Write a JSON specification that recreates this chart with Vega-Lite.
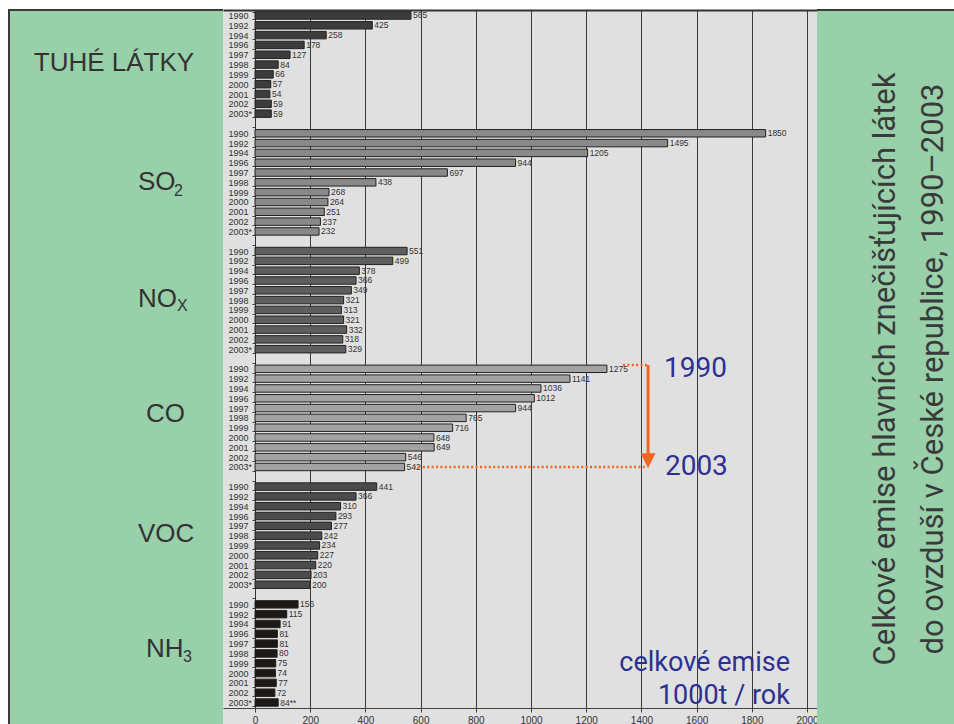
{
  "$schema": "https://vega.github.io/schema/vega-lite/v6.json",
  "background": "white",
  "padding": {"left": 8, "top": -10, "right": 0, "bottom": 0},
  "spacing": 0,
  "bounds": "flush",
  "config": {"view": {"stroke": null}, "font": "Liberation Sans", "axis": {"labelFont": "Liberation Sans"}},
  "datasets": {
    "em": [
      {"p": "TUHÉ", "k": "TUHÉ|1990", "v": 565, "lbl": "565"},
      {"p": "TUHÉ", "k": "TUHÉ|1992", "v": 425, "lbl": "425"},
      {"p": "TUHÉ", "k": "TUHÉ|1994", "v": 258, "lbl": "258"},
      {"p": "TUHÉ", "k": "TUHÉ|1996", "v": 178, "lbl": "178"},
      {"p": "TUHÉ", "k": "TUHÉ|1997", "v": 127, "lbl": "127"},
      {"p": "TUHÉ", "k": "TUHÉ|1998", "v": 84, "lbl": "84"},
      {"p": "TUHÉ", "k": "TUHÉ|1999", "v": 66, "lbl": "66"},
      {"p": "TUHÉ", "k": "TUHÉ|2000", "v": 57, "lbl": "57"},
      {"p": "TUHÉ", "k": "TUHÉ|2001", "v": 54, "lbl": "54"},
      {"p": "TUHÉ", "k": "TUHÉ|2002", "v": 59, "lbl": "59"},
      {"p": "TUHÉ", "k": "TUHÉ|2003*", "v": 59, "lbl": "59"},
      {"p": "SO2", "k": "SO2|1990", "v": 1850, "lbl": "1850"},
      {"p": "SO2", "k": "SO2|1992", "v": 1495, "lbl": "1495"},
      {"p": "SO2", "k": "SO2|1994", "v": 1205, "lbl": "1205"},
      {"p": "SO2", "k": "SO2|1996", "v": 944, "lbl": "944"},
      {"p": "SO2", "k": "SO2|1997", "v": 697, "lbl": "697"},
      {"p": "SO2", "k": "SO2|1998", "v": 438, "lbl": "438"},
      {"p": "SO2", "k": "SO2|1999", "v": 268, "lbl": "268"},
      {"p": "SO2", "k": "SO2|2000", "v": 264, "lbl": "264"},
      {"p": "SO2", "k": "SO2|2001", "v": 251, "lbl": "251"},
      {"p": "SO2", "k": "SO2|2002", "v": 237, "lbl": "237"},
      {"p": "SO2", "k": "SO2|2003*", "v": 232, "lbl": "232"},
      {"p": "NOx", "k": "NOx|1990", "v": 551, "lbl": "551"},
      {"p": "NOx", "k": "NOx|1992", "v": 499, "lbl": "499"},
      {"p": "NOx", "k": "NOx|1994", "v": 378, "lbl": "378"},
      {"p": "NOx", "k": "NOx|1996", "v": 366, "lbl": "366"},
      {"p": "NOx", "k": "NOx|1997", "v": 349, "lbl": "349"},
      {"p": "NOx", "k": "NOx|1998", "v": 321, "lbl": "321"},
      {"p": "NOx", "k": "NOx|1999", "v": 313, "lbl": "313"},
      {"p": "NOx", "k": "NOx|2000", "v": 321, "lbl": "321"},
      {"p": "NOx", "k": "NOx|2001", "v": 332, "lbl": "332"},
      {"p": "NOx", "k": "NOx|2002", "v": 318, "lbl": "318"},
      {"p": "NOx", "k": "NOx|2003*", "v": 329, "lbl": "329"},
      {"p": "CO", "k": "CO|1990", "v": 1275, "lbl": "1275"},
      {"p": "CO", "k": "CO|1992", "v": 1141, "lbl": "1141"},
      {"p": "CO", "k": "CO|1994", "v": 1036, "lbl": "1036"},
      {"p": "CO", "k": "CO|1996", "v": 1012, "lbl": "1012"},
      {"p": "CO", "k": "CO|1997", "v": 944, "lbl": "944"},
      {"p": "CO", "k": "CO|1998", "v": 765, "lbl": "765"},
      {"p": "CO", "k": "CO|1999", "v": 716, "lbl": "716"},
      {"p": "CO", "k": "CO|2000", "v": 648, "lbl": "648"},
      {"p": "CO", "k": "CO|2001", "v": 649, "lbl": "649"},
      {"p": "CO", "k": "CO|2002", "v": 546, "lbl": "546"},
      {"p": "CO", "k": "CO|2003*", "v": 542, "lbl": "542"},
      {"p": "VOC", "k": "VOC|1990", "v": 441, "lbl": "441"},
      {"p": "VOC", "k": "VOC|1992", "v": 366, "lbl": "366"},
      {"p": "VOC", "k": "VOC|1994", "v": 310, "lbl": "310"},
      {"p": "VOC", "k": "VOC|1996", "v": 293, "lbl": "293"},
      {"p": "VOC", "k": "VOC|1997", "v": 277, "lbl": "277"},
      {"p": "VOC", "k": "VOC|1998", "v": 242, "lbl": "242"},
      {"p": "VOC", "k": "VOC|1999", "v": 234, "lbl": "234"},
      {"p": "VOC", "k": "VOC|2000", "v": 227, "lbl": "227"},
      {"p": "VOC", "k": "VOC|2001", "v": 220, "lbl": "220"},
      {"p": "VOC", "k": "VOC|2002", "v": 203, "lbl": "203"},
      {"p": "VOC", "k": "VOC|2003*", "v": 200, "lbl": "200"},
      {"p": "NH3", "k": "NH3|1990", "v": 156, "lbl": "156"},
      {"p": "NH3", "k": "NH3|1992", "v": 115, "lbl": "115"},
      {"p": "NH3", "k": "NH3|1994", "v": 91, "lbl": "91"},
      {"p": "NH3", "k": "NH3|1996", "v": 81, "lbl": "81"},
      {"p": "NH3", "k": "NH3|1997", "v": 81, "lbl": "81"},
      {"p": "NH3", "k": "NH3|1998", "v": 80, "lbl": "80"},
      {"p": "NH3", "k": "NH3|1999", "v": 75, "lbl": "75"},
      {"p": "NH3", "k": "NH3|2000", "v": 74, "lbl": "74"},
      {"p": "NH3", "k": "NH3|2001", "v": 77, "lbl": "77"},
      {"p": "NH3", "k": "NH3|2002", "v": 72, "lbl": "72"},
      {"p": "NH3", "k": "NH3|2003*", "v": 84, "lbl": "84**"}
    ],
    "names": [
      {"g": "TUHÉ", "t": "TUHÉ LÁTKY"},
      {"g": "SO2", "t": "SO", "s": "2"},
      {"g": "NOx", "t": "NO", "s": "X"},
      {"g": "CO", "t": "CO"},
      {"g": "VOC", "t": "VOC"},
      {"g": "NH3", "t": "NH", "s": "3"}
    ],
    "title": [
      {"t": "Celkové emise hlavních znečišťujících látek\ndo ovzduší v České republice, 1990–2003"}
    ],
    "one": [{}]
  },
  "hconcat": [
    {
      "width": 214,
      "height": 714,
      "view": {"fill": "#98d0aa", "stroke": "#3a3a3a", "strokeWidth": 2, "strokeDash": [214, 928, 714], "strokeCap": "butt"},
      "data": {"name": "names"},
      "encoding": {
        "y": {"field": "g", "type": "nominal", "axis": null,
              "scale": {"type": "point", "domain": ["TUHÉ", "SO2", "NOx", "CO", "VOC", "NH3"], "padding": 0.536, "align": 0.437}}
      },
      "layer": [
        {
          "transform": [{"filter": "datum.g === 'TUHÉ'"}],
          "mark": {"type": "text", "align": "center", "baseline": "middle", "dx": -2, "dy": -2, "fontSize": 26, "color": "#333333", "font": "Liberation Sans"},
          "encoding": {"text": {"field": "t"}}
        },
        {
          "transform": [{"filter": "datum.g === 'SO2' || datum.g === 'NOx' || datum.g === 'VOC'"}],
          "mark": {"type": "text", "align": "left", "baseline": "middle", "dx": 22, "dy": -1, "fontSize": 26, "color": "#333333", "font": "Liberation Sans"},
          "encoding": {"text": {"field": "t"}}
        },
        {
          "transform": [{"filter": "datum.g === 'CO' || datum.g === 'NH3'"}],
          "mark": {"type": "text", "align": "left", "baseline": "middle", "dx": 30, "dy": -4, "fontSize": 26, "color": "#333333", "font": "Liberation Sans"},
          "encoding": {"text": {"field": "t"}}
        },
        {
          "transform": [{"filter": "datum.g === 'SO2'"}],
          "mark": {"type": "text", "align": "left", "baseline": "middle", "dx": 58, "dy": 8, "fontSize": 16, "color": "#333333", "font": "Liberation Sans"},
          "encoding": {"text": {"field": "s"}}
        },
        {
          "transform": [{"filter": "datum.g === 'NOx'"}],
          "mark": {"type": "text", "align": "left", "baseline": "middle", "dx": 61, "dy": 6, "fontSize": 16, "color": "#333333", "font": "Liberation Sans"},
          "encoding": {"text": {"field": "s"}}
        },
        {
          "transform": [{"filter": "datum.g === 'NH3'"}],
          "mark": {"type": "text", "align": "left", "baseline": "middle", "dx": 67, "dy": 4, "fontSize": 16, "color": "#333333", "font": "Liberation Sans"},
          "encoding": {"text": {"field": "s"}}
        }
      ]
    },
    {
      "width": 594,
      "height": 698,
      "view": {"fill": "#e0e0e0", "stroke": "#e0e0e0", "strokeWidth": 32, "strokeDash": [0, 1292, 594, 698], "strokeCap": "butt"},
      "data": {"name": "em"},
      "resolve": {"axis": {"x": "independent"}},
      "layer": [
        {
          "mark": {"type": "bar", "stroke": "#222222", "strokeWidth": 1},
          "encoding": {
            "y": {
              "field": "k", "type": "nominal",
              "scale": {
                "domain": [
                  "TUHÉ|1990", "TUHÉ|1992", "TUHÉ|1994", "TUHÉ|1996", "TUHÉ|1997", "TUHÉ|1998", "TUHÉ|1999", "TUHÉ|2000", "TUHÉ|2001", "TUHÉ|2002", "TUHÉ|2003*", "TUHÉ|",
                  "SO2|1990", "SO2|1992", "SO2|1994", "SO2|1996", "SO2|1997", "SO2|1998", "SO2|1999", "SO2|2000", "SO2|2001", "SO2|2002", "SO2|2003*", "SO2|",
                  "NOx|1990", "NOx|1992", "NOx|1994", "NOx|1996", "NOx|1997", "NOx|1998", "NOx|1999", "NOx|2000", "NOx|2001", "NOx|2002", "NOx|2003*", "NOx|",
                  "CO|1990", "CO|1992", "CO|1994", "CO|1996", "CO|1997", "CO|1998", "CO|1999", "CO|2000", "CO|2001", "CO|2002", "CO|2003*", "CO|",
                  "VOC|1990", "VOC|1992", "VOC|1994", "VOC|1996", "VOC|1997", "VOC|1998", "VOC|1999", "VOC|2000", "VOC|2001", "VOC|2002", "VOC|2003*", "VOC|",
                  "NH3|1990", "NH3|1992", "NH3|1994", "NH3|1996", "NH3|1997", "NH3|1998", "NH3|1999", "NH3|2000", "NH3|2001", "NH3|2002", "NH3|2003*"
                ],
                "paddingInner": 0.24,
                "paddingOuter": 0.18
              },
              "axis": {
                "offset": -32,
                "labelExpr": "split(datum.value, '|')[1]",
                "labelAlign": "left",
                "labelBaseline": "middle",
                "labelPadding": 24,
                "tickSize": 3,
                "tickBand": "extent",
                "tickColor": "#444444",
                "labelFontSize": 9,
                "labelColor": "#333333",
                "domainColor": "#333333",
                "title": null,
                "grid": false
              }
            },
            "x": {
              "field": "v", "type": "quantitative",
              "scale": {"domain": [-116, 2036], "nice": false, "zero": false},
              "axis": {
                "orient": "bottom",
                "values": [0, 200, 400, 600, 800, 1000, 1200, 1400, 1600, 1800, 2000],
                "format": "d",
                "grid": true, "gridColor": "#3a3a3a", "gridWidth": 1,
                "domain": true, "domainColor": "#444444",
                "tickColor": "#444444", "tickSize": 4,
                "labelFontSize": 10, "labelColor": "#333333", "labelPadding": 3,
                "title": null
              }
            },
            "x2": {"datum": 0},
            "color": {
              "field": "p", "type": "nominal", "legend": null,
              "scale": {"domain": ["TUHÉ", "SO2", "NOx", "CO", "VOC", "NH3"],
                        "range": ["#3c3c3c", "#898989", "#5e5e5e", "#a2a2a2", "#4b4b4b", "#1c1917"]}
            }
          }
        },
        {
          "mark": {"type": "text", "align": "left", "baseline": "middle", "dx": 2, "fontSize": 8.5, "color": "#333333"},
          "encoding": {
            "y": {"field": "k", "type": "nominal"},
            "x": {"field": "v", "type": "quantitative",
                  "axis": {"orient": "top", "domain": true, "domainColor": "#333333", "domainWidth": 2, "ticks": false, "labels": false, "grid": false, "title": null}},
            "text": {"field": "lbl"}
          }
        },
        {
          "data": {"name": "one"},
          "mark": {"type": "rule", "color": "#f26522", "strokeWidth": 2.5, "strokeDash": [2, 2.4]},
          "encoding": {
            "x": {"datum": 1333, "axis": null},
            "x2": {"datum": 1420},
            "y": {"datum": "CO|1990", "bandPosition": 0}
          }
        },
        {
          "data": {"name": "one"},
          "mark": {"type": "rule", "color": "#f26522", "strokeWidth": 2.5, "strokeDash": [2, 2.4]},
          "encoding": {
            "x": {"datum": 576, "axis": null},
            "x2": {"datum": 1420},
            "y": {"datum": "CO|2003*"}
          }
        },
        {
          "data": {"name": "one"},
          "mark": {"type": "rule", "color": "#f26522", "strokeWidth": 3},
          "encoding": {
            "x": {"datum": 1424, "axis": null},
            "y": {"datum": "CO|1990", "bandPosition": 0},
            "y2": {"datum": "CO|2002"}
          }
        },
        {
          "data": {"name": "one"},
          "mark": {"type": "point", "shape": "M-1,-1L1,-1L0,1Z", "filled": true, "color": "#f26522", "opacity": 1, "size": 225},
          "encoding": {
            "x": {"datum": 1424, "axis": null},
            "y": {"datum": "CO|2002", "bandPosition": 1}
          }
        },
        {
          "data": {"name": "one"},
          "mark": {"type": "text", "text": "1990", "align": "left", "baseline": "middle", "fontSize": 28, "color": "#2d3192", "font": "Roboto"},
          "encoding": {
            "x": {"datum": 1482, "axis": null},
            "y": {"datum": "CO|1990"}
          }
        },
        {
          "data": {"name": "one"},
          "mark": {"type": "text", "text": "2003", "align": "left", "baseline": "middle", "fontSize": 28, "color": "#2d3192", "font": "Roboto"},
          "encoding": {
            "x": {"datum": 1485, "axis": null},
            "y": {"datum": "CO|2003*"}
          }
        },
        {
          "data": {"name": "one"},
          "mark": {"type": "text", "text": "celkové emise\n1000t / rok", "lineBreak": "\n", "lineHeight": 33, "align": "right", "baseline": "middle", "fontSize": 27, "color": "#2d3192", "font": "Roboto"},
          "encoding": {
            "x": {"datum": 1938, "axis": null},
            "y": {"datum": "NH3|1999"}
          }
        }
      ]
    },
    {
      "width": 138,
      "height": 714,
      "view": {"fill": "#98d0aa", "stroke": "#3a3a3a", "strokeWidth": 2, "strokeDash": [138, 1566], "strokeCap": "butt"},
      "data": {"name": "title"},
      "mark": {"type": "text", "angle": 270, "align": "center", "baseline": "middle", "lineBreak": "\n", "lineHeight": 48, "dx": -2, "fontSize": 31, "color": "#3a3a3a", "font": "Roboto"},
      "encoding": {"text": {"field": "t"}}
    }
  ]
}
